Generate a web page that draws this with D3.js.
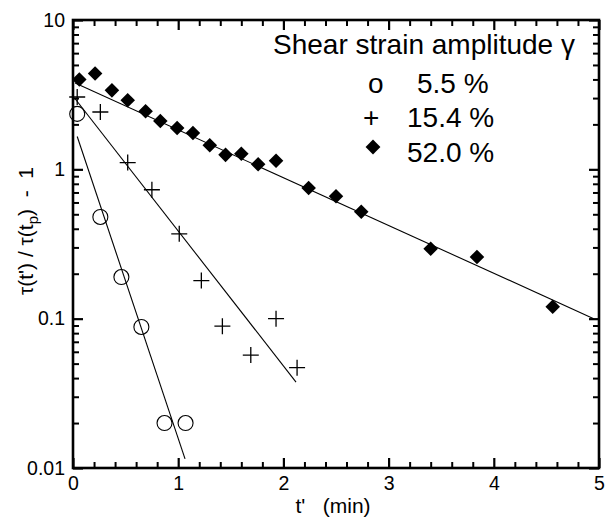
<!DOCTYPE html>
<html>
<head>
<meta charset="utf-8">
<script src="https://cdn.jsdelivr.net/npm/d3@7"></script>
<style>
  body { margin: 0; background: #fff; }
  svg { display: block; font-family: "Liberation Sans", Arial, Helvetica, sans-serif; }
  text { white-space: pre; }
</style>
</head>
<body>
<div id="chart"></div>
<script>
// gamma = 5.5 %
const t55 = [0.04, 0.26, 0.46, 0.65, 0.87, 1.07];
const v55 = [2.35, 0.48, 0.19, 0.088, 0.02, 0.02];
// gamma = 15.4 %
const t154 = [0.04, 0.26, 0.52, 0.75, 1.01, 1.22, 1.42, 1.69, 1.93, 2.13];
const v154 = [3.05, 2.42, 1.11, 0.73, 0.37, 0.18, 0.089, 0.057, 0.10, 0.047];
// gamma = 52.0 %
const t520 = [0.06, 0.21, 0.37, 0.52, 0.69, 0.83, 0.99, 1.14, 1.30, 1.45, 1.60, 1.76, 1.93, 2.24, 2.50, 2.74, 3.40, 3.84, 4.56];
const v520 = [4.0, 4.38, 3.38, 2.9, 2.45, 2.11, 1.89, 1.75, 1.45, 1.25, 1.27, 1.08, 1.14, 0.75, 0.66, 0.52, 0.294, 0.259, 0.12];

// fitted exponential lines (end points)
const fitT55 = [0.04, 1.065], fitV55 = [1.66, 0.0115];
const fitT154 = [0.02, 2.12], fitV154 = [2.97, 0.0376];
const fitT520 = [0.02, 4.95], fitV520 = [3.78, 0.10];

const xTicks = [0, 1, 2, 3, 4, 5];
const xTickLabels = ["0", "1", "2", "3", "4", "5"];
const yTicks = [0.01, 0.1, 1, 10];
const yTickLabels = ["0.01", "0.1", "1", "10"];
const legendLabels = ["5.5 %", "15.4 %", "52.0 %"];

const width = 605, height = 520;
const margin = {top: 20, right: 6, bottom: 52, left: 73};

const svg = d3.select("#chart").append("svg")
    .attr("width", width)
    .attr("height", height);

const x = d3.scaleLinear().domain([0, 5]).range([margin.left, width - margin.right]);
const y = d3.scaleLog().domain([0.01, 10]).range([height - margin.bottom, margin.top]);

const xMinor = d3.range(0, 5.0001, 0.2).filter(d => Math.abs(d - Math.round(d)) > 1e-6);
const yMinor = [];
[0.01, 0.1, 1].forEach(e => { for (let k = 2; k <= 9; k++) yMinor.push(k * e); });

const x0 = x.range()[0], x1 = x.range()[1];
const y0 = y.range()[0], y1 = y.range()[1];

function styleAxis(g, sw) {
    g.select(".domain").remove();
    g.selectAll(".tick line").attr("stroke", "#000").attr("stroke-width", sw);
    g.selectAll("text").attr("fill", "#000").attr("font-size", 19.5);
}

// bottom
svg.append("g").attr("transform", `translate(0,${y0})`)
    .call(d3.axisBottom(x).tickValues(xMinor).tickSize(-6).tickFormat(""))
    .call(g => styleAxis(g, 2));
svg.append("g").attr("transform", `translate(0,${y0})`)
    .call(d3.axisBottom(x).tickValues(xTicks).tickSize(-10).tickPadding(8)
        .tickFormat((d, i) => xTickLabels[i]))
    .call(g => styleAxis(g, 2.2));
// top
svg.append("g").attr("transform", `translate(0,${y1})`)
    .call(d3.axisTop(x).tickValues(xMinor).tickSize(-6).tickFormat(""))
    .call(g => styleAxis(g, 2));
svg.append("g").attr("transform", `translate(0,${y1})`)
    .call(d3.axisTop(x).tickValues(xTicks).tickSize(-10).tickFormat(""))
    .call(g => styleAxis(g, 2.2));
// left
svg.append("g").attr("transform", `translate(${x0},0)`)
    .call(d3.axisLeft(y).tickValues(yMinor).tickSize(-6).tickFormat(""))
    .call(g => styleAxis(g, 2));
svg.append("g").attr("transform", `translate(${x0},0)`)
    .call(d3.axisLeft(y).tickValues(yTicks).tickSize(-10).tickPadding(8)
        .tickFormat((d, i) => yTickLabels[i]))
    .call(g => styleAxis(g, 2.2));
// right
svg.append("g").attr("transform", `translate(${x1},0)`)
    .call(d3.axisRight(y).tickValues(yMinor).tickSize(-6).tickFormat(""))
    .call(g => styleAxis(g, 2));
svg.append("g").attr("transform", `translate(${x1},0)`)
    .call(d3.axisRight(y).tickValues(yTicks).tickSize(-10).tickFormat(""))
    .call(g => styleAxis(g, 2.2));

// frame
svg.append("rect")
    .attr("x", x0).attr("y", y1)
    .attr("width", x1 - x0).attr("height", y0 - y1)
    .attr("fill", "none").attr("stroke", "#000").attr("stroke-width", 2.6);

// fit lines
const line = d3.line().x(d => x(d[0])).y(d => y(d[1]));
[[fitT55, fitV55], [fitT154, fitV154], [fitT520, fitV520]].forEach(([ts, vs]) => {
    svg.append("path")
        .datum(ts.map((t, i) => [t, vs[i]]))
        .attr("d", line)
        .attr("fill", "none")
        .attr("stroke", "#000")
        .attr("stroke-width", 1.1);
});

// markers
svg.append("g").selectAll("circle")
    .data(t55.map((t, i) => [t, v55[i]]))
    .join("circle")
    .attr("cx", d => x(d[0])).attr("cy", d => y(d[1]))
    .attr("r", 7.5)
    .attr("fill", "none").attr("stroke", "#000").attr("stroke-width", 1.1);

const crossPath = "M-8,0H8M0,-8V8";
svg.append("g").selectAll("path")
    .data(t154.map((t, i) => [t, v154[i]]))
    .join("path")
    .attr("transform", d => `translate(${x(d[0])},${y(d[1])})`)
    .attr("d", crossPath)
    .attr("fill", "none").attr("stroke", "#000").attr("stroke-width", 1.3);

const diamond = d3.symbol(d3.symbolSquare, 106);
svg.append("g").selectAll("path")
    .data(t520.map((t, i) => [t, v520[i]]))
    .join("path")
    .attr("transform", d => `translate(${x(d[0])},${y(d[1])}) rotate(45)`)
    .attr("d", diamond)
    .attr("fill", "#000");

// legend
const lg = svg.append("g").attr("font-size", 28).attr("fill", "#000");
lg.append("text").attr("x", 273).attr("y", 54).text("Shear strain amplitude γ");
lg.append("text").attr("x", 368).attr("y", 93).text("o");
lg.append("text").attr("x", 417).attr("y", 93).text(legendLabels[0]);
lg.append("text").attr("x", 363).attr("y", 127).text("+");
lg.append("text").attr("x", 407).attr("y", 127).text(legendLabels[1]);
lg.append("path")
    .attr("transform", "translate(373,147) rotate(45)")
    .attr("d", d3.symbol(d3.symbolSquare, 110));
lg.append("text").attr("x", 407).attr("y", 162).text(legendLabels[2]);

// axis titles
svg.append("text")
    .attr("x", 333).attr("y", 513)
    .attr("text-anchor", "middle")
    .attr("font-size", 21)
    .text("t'   (min)");

const yl = svg.append("text")
    .attr("transform", "translate(33,231) rotate(-90)")
    .attr("text-anchor", "middle")
    .attr("font-size", 21);
yl.append("tspan").text("τ(t') / τ(t");
yl.append("tspan").attr("font-size", 15).attr("dy", 5).text("p");
yl.append("tspan").attr("dy", -5).text(")  -  1");
</script>
</body>
</html>
